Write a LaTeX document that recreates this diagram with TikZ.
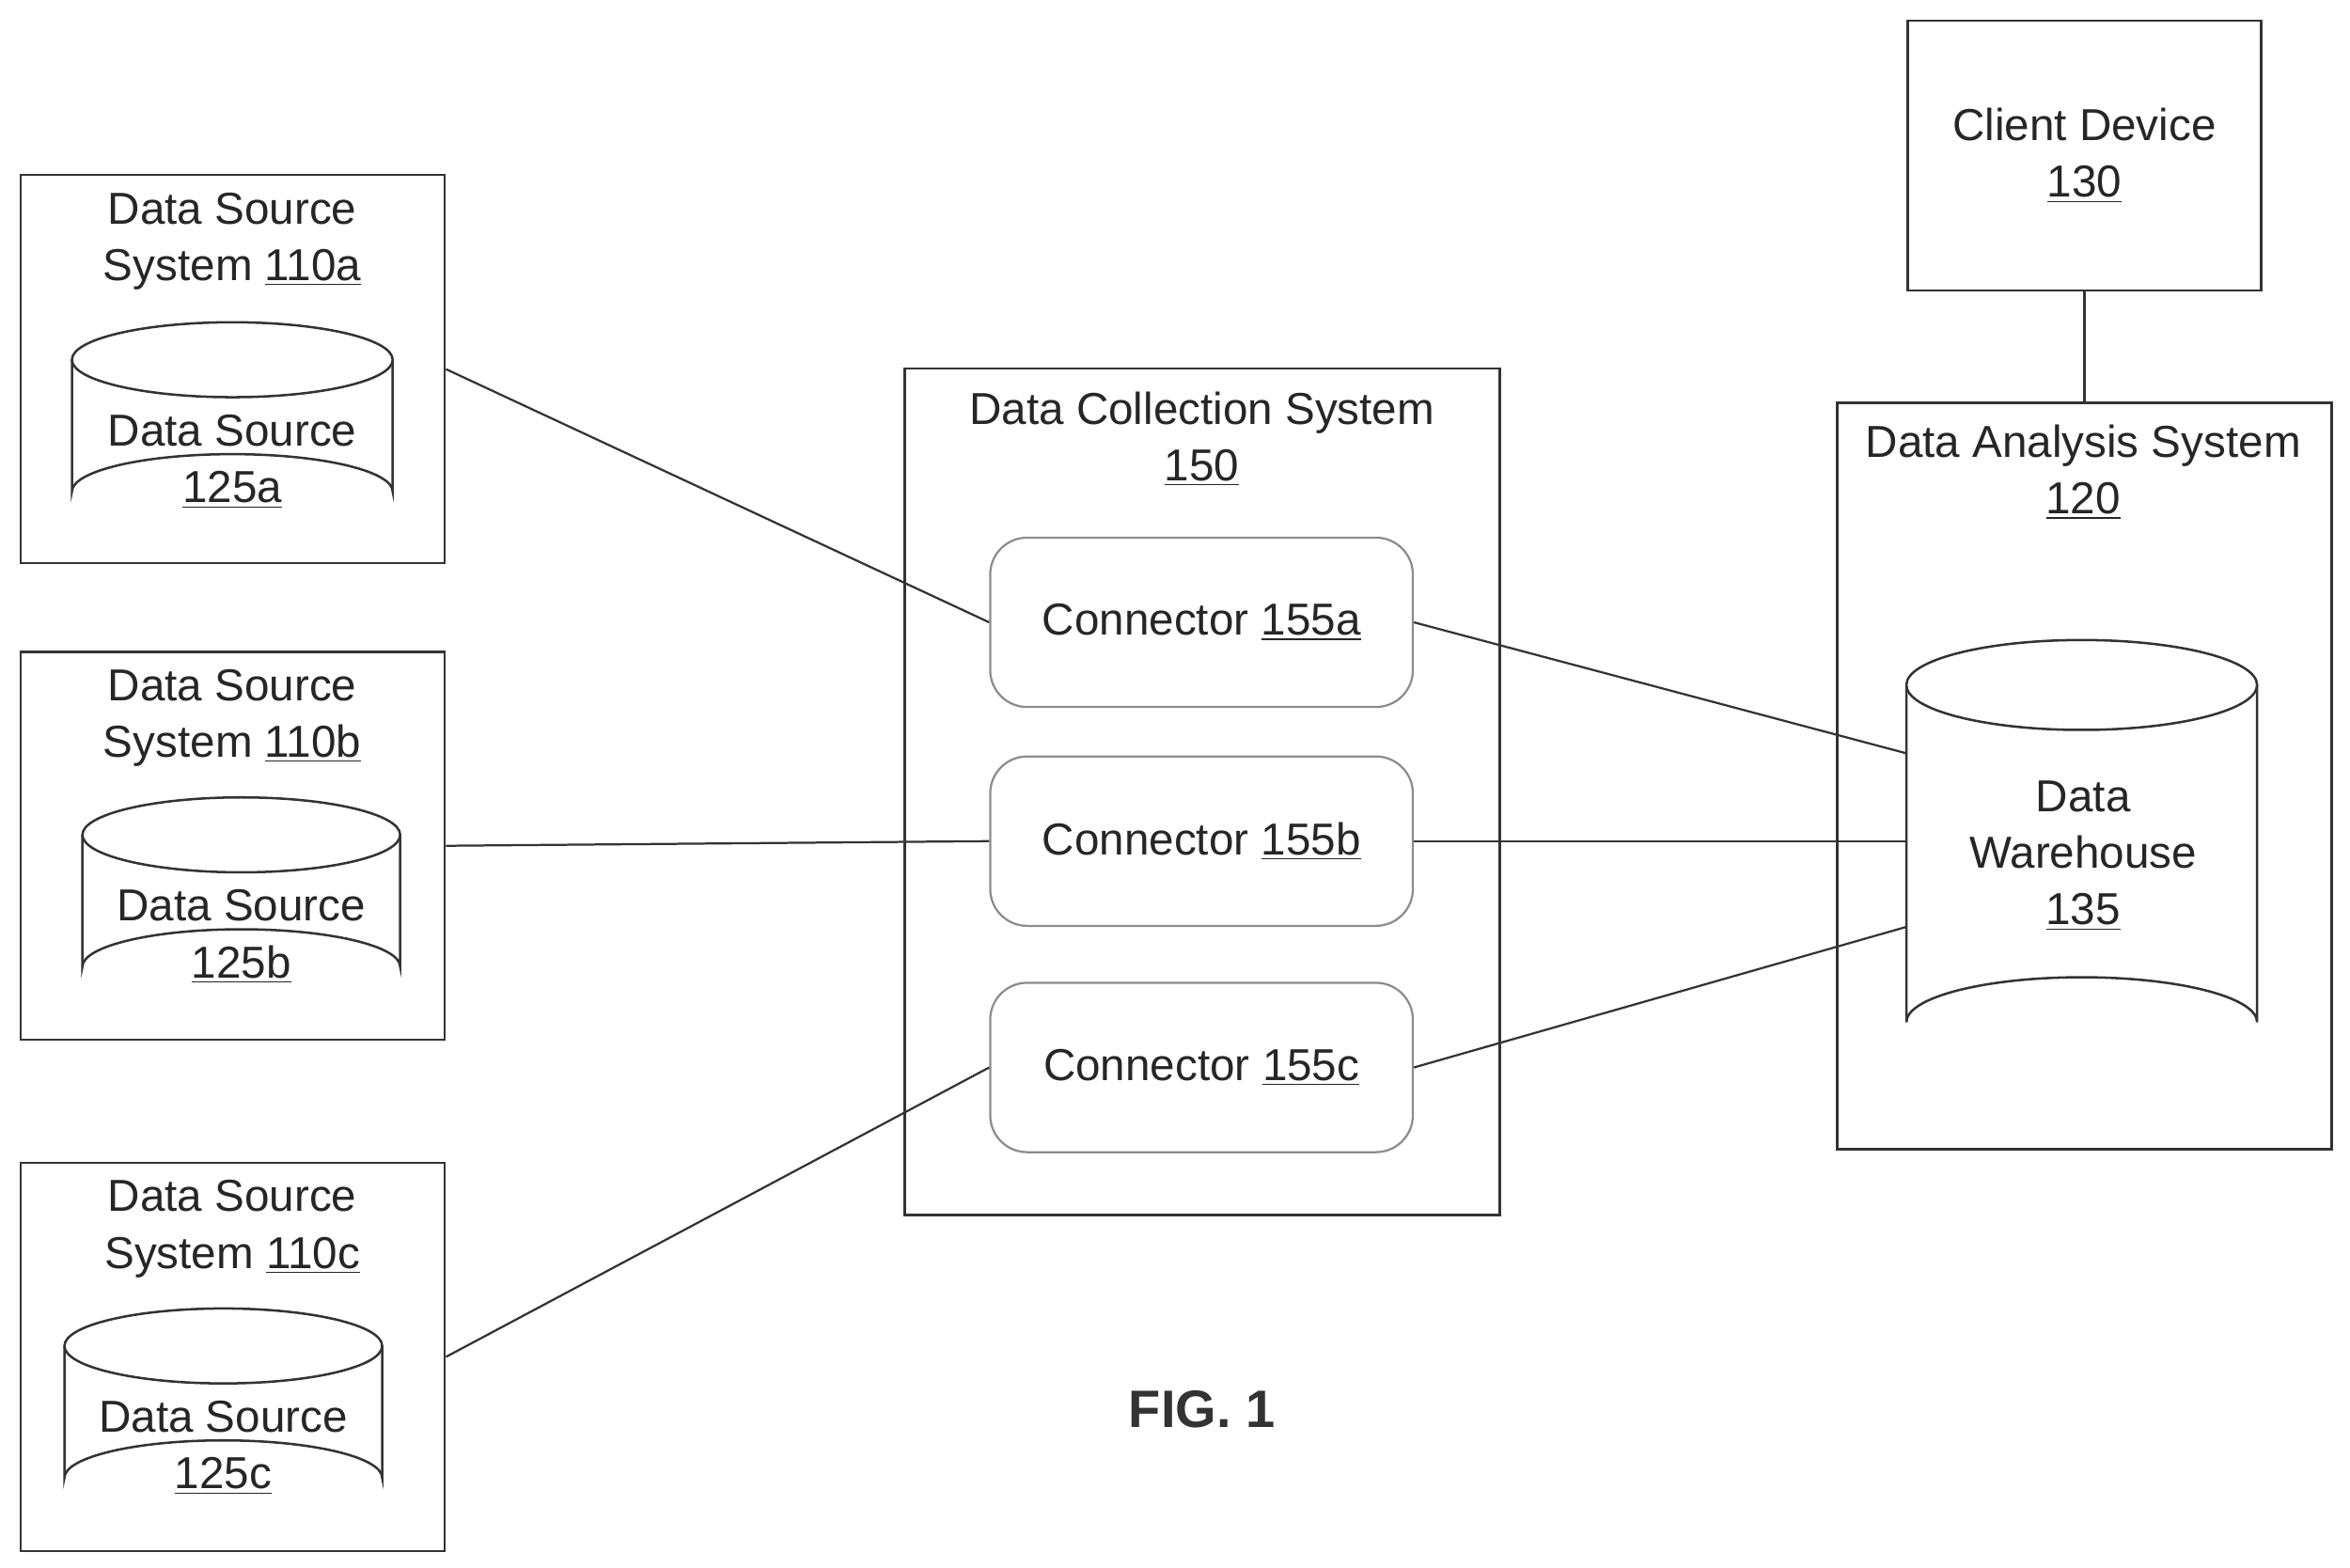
\documentclass[tikz,border=0pt]{standalone}
\usepackage{fontspec}
\setmainfont{Liberation Sans}
\usetikzlibrary{calc}
\newcommand{\ul}[1]{\underline{#1}}
\begin{document}
\begin{tikzpicture}[x=0.02cm,y=-0.02cm,
  box/.style={draw=black!80,line width=0.9pt,inner sep=0pt},
  txt/.style={font=\fontsize{17}{21.5}\selectfont,align=center,text=black!85},
  conn/.style={draw=black!80,line width=0.8pt},
  cyl/.style={draw=black!80,line width=0.9pt,fill=white}]
\useasboundingbox (0,0) rectangle (1568,1046);
% data source systems
\foreach \n/\y/\cx/\cw/\cy in {a/116/48/214/215, b/434/55/212/532, c/775/43/212/873}{
  \node[box,minimum width=283*0.02cm,minimum height=259*0.02cm,anchor=north west] (ds\n) at (13,\y) {};
  \node[txt] (dst\n) at (155,{\y+45}) {Data Source\\System \ul{110\n}};
  \pgfmathsetmacro{\rx}{\cw/2}
  \pgfmathsetmacro{\mx}{\cx+\cw/2}
  \pgfmathsetmacro{\yt}{\cy+25}
  \pgfmathsetmacro{\yb}{\cy+113}
  \draw[cyl] (\cx,\yt) -- (\cx,\yb) arc[start angle=180,end angle=360,x radius=\rx,y radius=25] -- ({\cx+\cw},\yt);
  \draw[cyl] (\mx,\yt) ellipse[x radius=\rx,y radius=25];
  \node[txt] (src\n) at (\mx,{\cy+93}) {Data Source\\\ul{125\n}};
}
% data collection system
\node[box,minimum width=397*0.02cm,minimum height=565*0.02cm,anchor=north west] (dcs) at (603,245) {};
\node[txt] (dcst) at (802,293) {Data Collection System\\\ul{150}};
\foreach \n/\y in {a/358,b/504,c/655}{
  \node[draw=black!45,line width=0.8pt,rounded corners=14pt,minimum width=282*0.02cm,minimum height=113*0.02cm,anchor=north west] (c\n) at (660,\y) {};
  \node[txt] at (c\n) {Connector \ul{155\n}};
}
% data analysis system
\node[box,minimum width=330*0.02cm,minimum height=498*0.02cm,anchor=north west] (das) at (1225,268) {};
\node[txt] (dast) at (1390,315) {Data Analysis System\\\ul{120}};
\draw[cyl] (1272,457) -- (1272,682) arc[start angle=180,end angle=360,x radius=117,y radius=30] -- (1506,457);
\draw[cyl] (1389,457) ellipse[x radius=117,y radius=30];
\node[minimum width=234*0.02cm,minimum height=285*0.02cm,inner sep=0pt] (wh) at (1389,569.5) {};
\node[txt] at (1390,571) {Data\\Warehouse\\\ul{135}};
% client device
\node[box,minimum width=236*0.02cm,minimum height=180*0.02cm,anchor=north west] (cd) at (1272,13) {};
\node[txt] at (cd) {Client Device\\\ul{130}};
% connections
\draw[conn] (dsa.east) -- (ca.west);
\draw[conn] (dsb.east) -- (cb.west);
\draw[conn] (dsc.east) -- (cc.west);
\draw[conn] (ca.east) -- ($(wh.west)+(0,-67)$);
\draw[conn] (cb.east) -- (cb.east -| wh.west);
\draw[conn] (cc.east) -- ($(wh.west)+(0,49)$);
\draw[conn] (cd.south) -- (das.north -| cd.south);
\node[font=\fontsize{20}{24}\selectfont\bfseries,text=black!80] (fig) at (802,940) {FIG. 1};
\end{tikzpicture}
\end{document}
